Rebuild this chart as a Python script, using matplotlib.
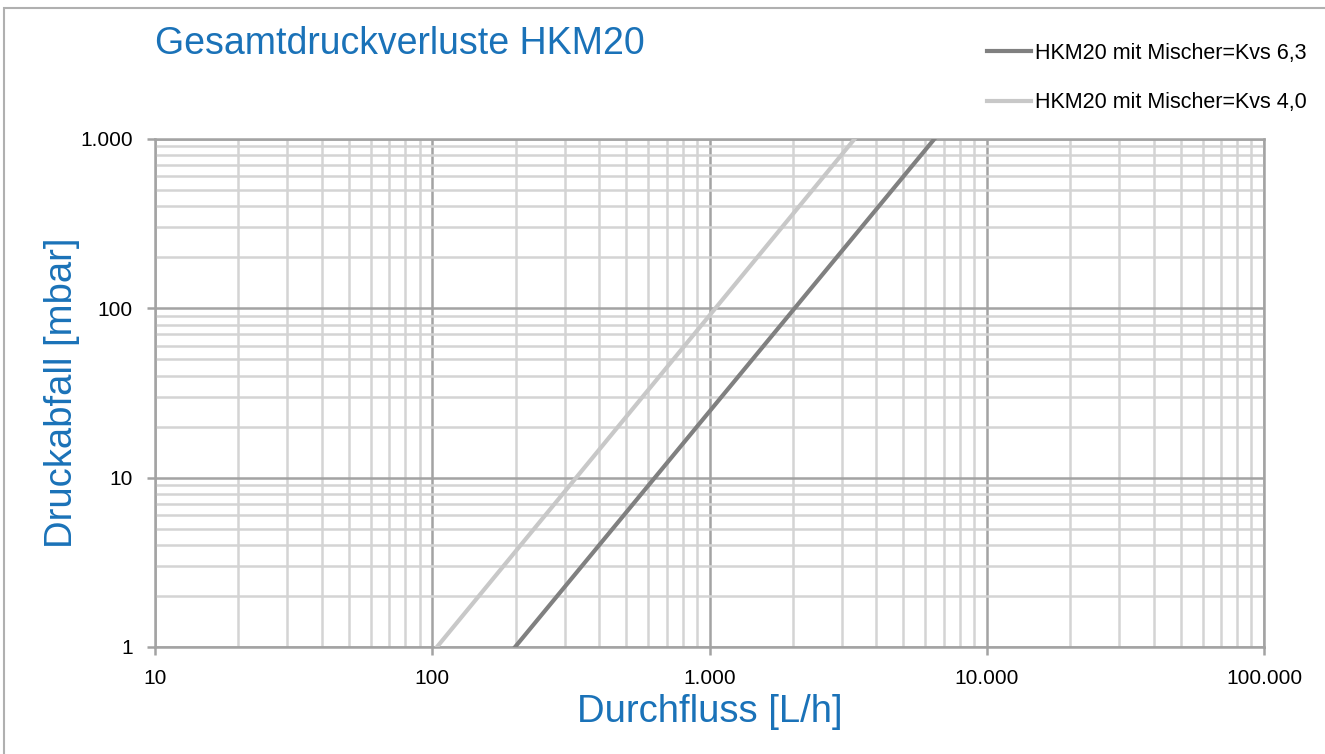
import numpy as np
from matplotlib import pyplot as plt
from matplotlib.ticker import FixedLocator, FuncFormatter, NullFormatter
from matplotlib.patches import Rectangle

plt.rcParams["font.family"] = ["Liberation Sans", "DejaVu Sans"]

# flow [L/h] and pressure drop [mbar], endpoints
flow_63 = [199, 6480]
dp_63 = [1, 1000]
flow_40 = [104, 3340]
dp_40 = [1, 1000]
labels = ["HKM20 mit Mischer=Kvs 6,3", "HKM20 mit Mischer=Kvs 4,0"]

blue = "#1a72b8"
major_c = "#a3a3a3"
minor_c = "#d4d4d4"

fig = plt.figure(figsize=(13.25, 7.54), dpi=100)
ax = fig.add_axes([0.117, 0.142, 0.837, 0.674])

ax.plot(flow_63, dp_63, color="#808080", lw=3, label=labels[0], zorder=3)
ax.plot(flow_40, dp_40, color="#c8c8c8", lw=3, label=labels[1], zorder=3)

ax.set_xscale("log")
ax.set_yscale("log")
ax.set_xlim(10, 100000)
ax.set_ylim(1, 1000)

ax.xaxis.set_major_locator(FixedLocator([10, 100, 1000, 10000, 100000]))
ax.yaxis.set_major_locator(FixedLocator([1, 10, 100, 1000]))
xminor = [m * 10**e for e in range(1, 5) for m in range(2, 10)]
yminor = [m * 10**e for e in range(0, 3) for m in range(2, 10)]
ax.xaxis.set_minor_locator(FixedLocator(xminor))
ax.yaxis.set_minor_locator(FixedLocator(yminor))
ax.xaxis.set_minor_formatter(NullFormatter())
ax.yaxis.set_minor_formatter(NullFormatter())

fmt = FuncFormatter(lambda v, p: f"{int(round(v)):,}".replace(",", "."))
ax.xaxis.set_major_formatter(fmt)
ax.yaxis.set_major_formatter(fmt)

ax.grid(True, which="minor", color=minor_c, lw=1.8, zorder=1)
ax.grid(True, which="major", color=major_c, lw=1.8, zorder=2)
ax.set_axisbelow(True)

ax.tick_params(which="major", length=6, width=1.8, color=major_c,
               labelsize=15, pad=10)
ax.tick_params(which="minor", length=0)
for s in ax.spines.values():
    s.set_color(major_c)
    s.set_linewidth(1.8)

ax.set_xlabel("Durchfluss [L/h]", fontsize=27.5, color=blue, labelpad=4)
ax.set_ylabel("Druckabfall [mbar]", fontsize=27.5, color=blue, labelpad=0)

fig.text(0.117, 0.942, "Gesamtdruckverluste HKM20", fontsize=27, color=blue,
         ha="left", va="center")

fig.legend(loc="upper right", bbox_to_anchor=(1.0005, 0.969), frameon=False,
           fontsize=15.5, handlelength=2.05, handletextpad=0.15,
           labelspacing=1.33)

fig.patches.append(Rectangle((0.003, -0.1), 1.2, 1.09, transform=fig.transFigure,
                             fill=False, ec="#b0b0b0", lw=1.5))

plt.savefig("out.png", dpi=100)
